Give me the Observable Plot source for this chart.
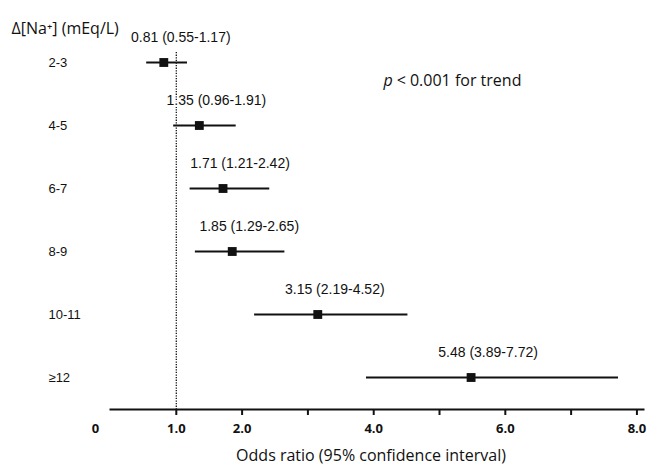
<!DOCTYPE html>
<html>
<head>
<meta charset="utf-8">
<script src="https://cdn.jsdelivr.net/npm/d3@7"></script>
<script src="https://cdn.jsdelivr.net/npm/@observablehq/plot@0.6"></script>
<style>
  html, body { margin: 0; padding: 0; background: #fff; }
</style>
</head>
<body>
<div id="chart"></div>
<script>
const groups = ["2-3", "4-5", "6-7", "8-9", "10-11", "≥12"];
const oddsRatio = [0.81, 1.35, 1.71, 1.85, 3.15, 5.48];
const ciLow = [0.55, 0.96, 1.21, 1.29, 2.19, 3.89];
const ciHigh = [1.17, 1.91, 2.42, 2.65, 4.52, 7.72];
const tickValues = [1, 2, 3, 4, 5, 6, 7, 8];
const labeledTicks = [1, 2, 4, 6, 8];
const zeroTick = [0];
const referenceLine = [1];
const yTitle = "Δ[Na⁺] (mEq/L)";
const xTitle = "Odds ratio (95% confidence interval)";
const trendNote = " < 0.001 for trend";

const rows = groups.map((g, i) => ({
  g, or: oddsRatio[i], lo: ciLow[i], hi: ciHigh[i],
  label: `${oddsRatio[i].toFixed(2)} (${ciLow[i].toFixed(2)}-${ciHigh[i].toFixed(2)})`
}));

const calib = "'Open Sans', Lato, sans-serif";
const arial = "'Liberation Sans', Arial, sans-serif";

const chart = Plot.plot({
  width: 650,
  height: 468,
  marginLeft: 110,
  marginRight: 7,
  marginTop: 10,
  marginBottom: 59,
  style: { fontFamily: arial, fontSize: "12px", color: "#111", background: "#fff" },
  x: { domain: [0, 8.1] },
  y: { type: "point", domain: groups, padding: 0, insetTop: 52, insetBottom: 32, axis: null },
  marks: [
    Plot.ruleX(referenceLine, { x: d => d, stroke: "#111", strokeWidth: 1.3, strokeDasharray: "1.3,1.3", insetTop: 42 }),
    Plot.frame({ anchor: "bottom", stroke: "#111", strokeWidth: 2 }),
    Plot.axisX({
      ticks: tickValues, tickSize: 6, strokeWidth: 2, tickPadding: 8,
      tickFormat: d => labeledTicks.includes(d) ? d.toFixed(1) : "",
      fontFamily: calib, fontWeight: "bold", fontSize: 13, label: null
    }),
    Plot.text(zeroTick, { x: d => d, text: d => String(d), frameAnchor: "bottom", dy: 23, dx: -15,
      fontFamily: calib, fontWeight: "bold", fontSize: 13 }),
    Plot.text([xTitle], { text: d => d, frameAnchor: "bottom", dy: 51, dx: -6, fontFamily: calib, fontSize: 16 }),
    Plot.text([yTitle], { text: d => d, frameAnchor: "top-left", dx: -99, dy: 12, textAnchor: "start", fontFamily: calib, fontSize: 16 }),
    Plot.text(["p"], { text: d => d, frameAnchor: "top-left", dx: 273, dy: 64, textAnchor: "start", fontFamily: calib, fontSize: 16, fontStyle: "italic" }),
    Plot.text([trendNote], { text: d => d, frameAnchor: "top-left", dx: 282, dy: 64, textAnchor: "start", fontFamily: calib, fontSize: 16 }),
    Plot.text(rows, { y: "g", text: "g", frameAnchor: "left", dx: -62, textAnchor: "start", fontSize: 13, fill: "#111" }),
    Plot.ruleY(rows, { y: "g", x1: "lo", x2: "hi", stroke: "#111", strokeWidth: 2.2 }),
    Plot.dot(rows, { y: "g", x: "or", symbol: "square", r: 5, fill: "#111", stroke: "none" }),
    Plot.text(rows, { y: "g", x: "or", text: "label", dy: -25, dx: 17, fontSize: 14, fill: "#111", stroke: "white", strokeWidth: 4, paintOrder: "stroke" })
  ]
});
document.getElementById("chart").appendChild(chart);
</script>
</body>
</html>
